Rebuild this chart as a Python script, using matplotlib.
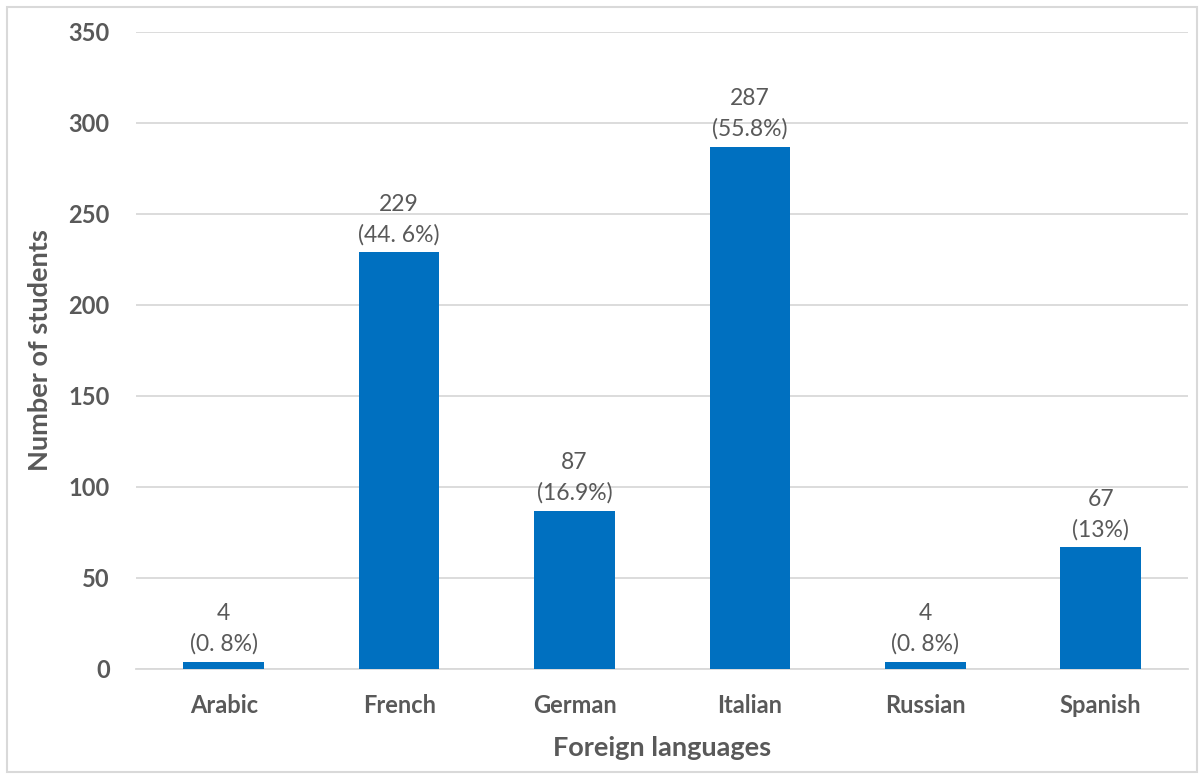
import matplotlib.pyplot as plt
import numpy as np
from matplotlib.patches import Rectangle

languages = ['Arabic', 'French', 'German', 'Italian', 'Russian', 'Spanish']
students = [4, 229, 87, 287, 4, 67]
percent_labels = ['(0. 8%)', '(44. 6%)', '(16.9%)', '(55.8%)', '(0. 8%)', '(13%)']

plt.rcParams['font.family'] = ['Lato', 'DejaVu Sans']
grey = '#595959'

fig = plt.figure(figsize=(12.04, 7.77), dpi=100)
ax = fig.add_axes([0.113, 0.139, 0.874, 0.82])

x = np.arange(len(languages))
ax.bar(x, students, width=0.46, color='#0070C0', zorder=3)

for xi, v, p in zip(x, students, percent_labels):
    ax.annotate(f'{v}\n{p}', (xi, v), xytext=(0, 5), textcoords='offset points',
                ha='center', va='bottom', fontsize=16.5, color=grey, linespacing=1.5)

ax.set_xlim(-0.5, len(languages) - 0.5)
ax.set_ylim(0, 350)
ax.set_yticks(range(0, 351, 50))
ax.set_xticks(x)
ax.set_xticklabels(languages, fontweight='bold')
ax.grid(axis='y', color='#d9d9d9', linewidth=1.3, zorder=0)
for s in ['top', 'right', 'left']:
    ax.spines[s].set_visible(False)
ax.spines['bottom'].set_color('#d9d9d9')
ax.spines['bottom'].set_linewidth(1.3)
ax.tick_params(axis='both', length=0, labelsize=17, labelcolor=grey)
ax.tick_params(axis='x', pad=18)
ax.tick_params(axis='y', pad=19)
for lab in ax.get_yticklabels():
    lab.set_fontweight('bold')

ax.set_xlabel('Foreign languages', fontsize=19.5, fontweight='bold', color=grey, labelpad=14)
ax.set_ylabel('Number of students', fontsize=19.5, fontweight='bold', color=grey, labelpad=12)

fig.patches.append(Rectangle((0.006, 0.006), 0.988, 0.985, transform=fig.transFigure,
                             fill=False, edgecolor='#d9d9d9', linewidth=1.5))

fig.savefig('out.png', dpi=100)
